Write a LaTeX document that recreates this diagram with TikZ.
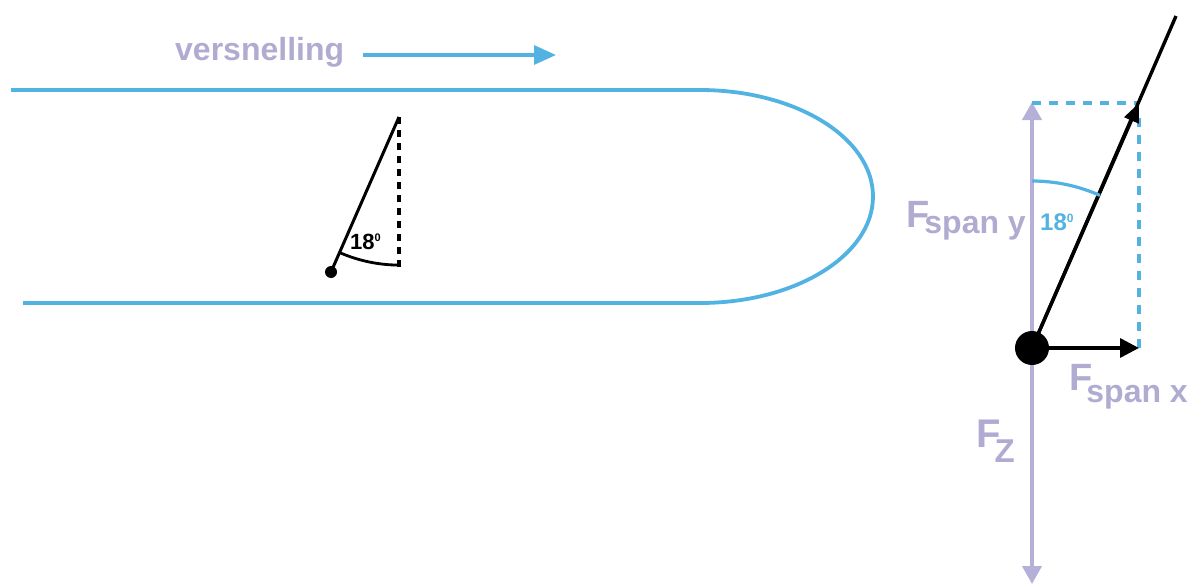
\documentclass[tikz,border=0pt]{standalone}
\usepackage{fontspec}
\setmainfont{Liberation Sans}
\usetikzlibrary{arrows.meta}
\definecolor{busblue}{HTML}{52B3E3}
\definecolor{lav}{HTML}{B4B0D8}
\definecolor{lavtext}{HTML}{B0ACD1}
\newcommand{\fs}[1]{\fontsize{#1}{#1}\selectfont}
\begin{document}
\begin{tikzpicture}[x=1pt,y=-1pt,
  busline/.style={draw=busblue,line width=3.8pt},
  lavtxt/.style={text=lavtext,font=\bfseries,inner sep=0pt},
  blackln/.style={draw=black,line width=3.4pt},
  bluedash/.style={draw=busblue,line width=3.4pt,dash pattern=on 9pt off 8pt},
  blackdash/.style={draw=black,line width=3.2pt,dash pattern=on 7pt off 6pt},
  lavarrow/.style={draw=lav,line width=4pt,{Triangle[length=18pt,width=19pt]}-{Triangle[length=18pt,width=19pt]}}
]
\useasboundingbox (0,0) rectangle (1192,586);

% bus outline
\coordinate (tl) at (11,90);
\coordinate (tr) at (700,90);
\coordinate (bl) at (23,303);
\path[busline] (tl) -- (tr) arc[start angle=-90,end angle=90,x radius=173,y radius=106.5] -- (bl);

% versnelling
\node[lavtxt,anchor=base west] (vers) at (175,61) {\fs{32}versnelling};
\coordinate (va) at (363,55);
\coordinate (vb) at (556,55);
\draw[draw=busblue,line width=3.2pt,-{Triangle[length=22pt,width=19pt]}] (va) -- (vb);

% pendulum in bus
\coordinate (ptop) at (399,117);
\coordinate (pbot) at (331,272);
\coordinate (pvb) at (399,268);
\draw[blackdash] (ptop) -- (pvb);
\draw[blackln,line width=3pt] (ptop) -- (pbot);
\fill (pbot) circle[radius=6];
\draw[black,line width=2.8pt] (339.5,252.5) arc[start angle=113.7,end angle=90,radius=149];
\node[inner sep=0pt,anchor=base west,font=\bfseries] (a1) at (350,249) {\fs{22}18\raisebox{8pt}{\fs{11}0}};

% force diagram
\coordinate (dot) at (1032,348);
\coordinate (vtop) at (1032,102);
\coordinate (vbot) at (1032,584);
\coordinate (corner) at (1139,103);
\coordinate (xend) at (1139,348);
\coordinate (ltop) at (1176,16);
\coordinate (ytop) at (1032,103);

\draw[lavarrow] (vtop) -- (vbot);
\draw[bluedash] (ytop) -- (corner);
\draw[bluedash] (1139,118) -- (xend);
\draw[blackln] (dot) -- (ltop);
\draw[blackln,-{Triangle[length=19pt,width=15pt]}] (dot) -- (1139,103);
\draw[blackln,-{Triangle[length=19pt,width=19pt]}] (dot) -- (xend);
\fill (dot) circle[radius=17];
\draw[busblue,line width=3.2pt] (1032,181) arc[start angle=-90,end angle=-66,radius=167];

\node[inner sep=0pt,anchor=base west,font=\bfseries,text=busblue] (a2) at (1040,230) {\fs{24}18\raisebox{8pt}{\fs{12}0}};

\node[lavtxt,anchor=base west] (fy) at (906,227) {\fs{38}F\kern-5pt\raisebox{-6pt}{\fs{32}span y}};
\node[lavtxt,anchor=base west] (fx) at (1069,390) {\fs{38}F\kern-6pt\raisebox{-12pt}{\fs{32}span x}};
\node[lavtxt,anchor=base west] (fz) at (976,447) {\fs{40}F\kern-6pt\raisebox{-15pt}{\fs{33}Z}};
\end{tikzpicture}
\end{document}
